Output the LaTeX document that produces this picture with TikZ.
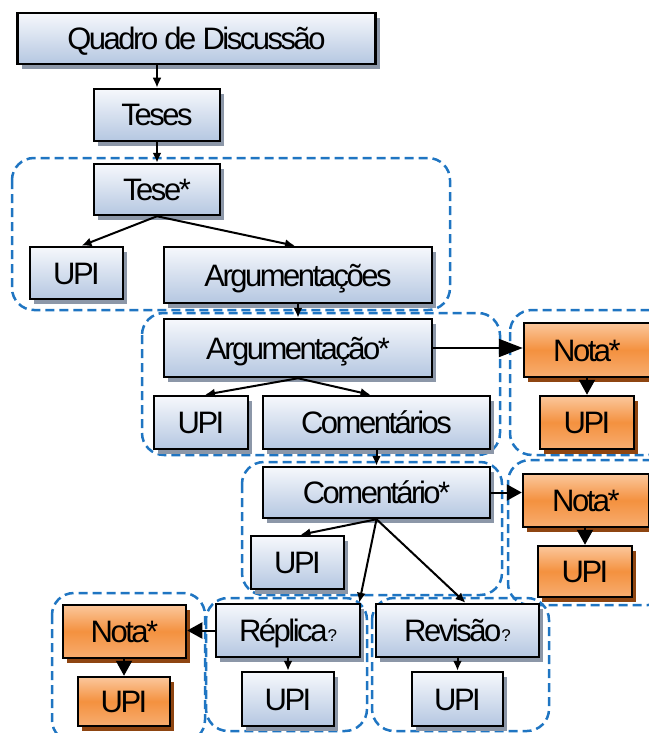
\documentclass[tikz,border=0pt]{standalone}
\usepackage{fontspec}
\setmainfont[LetterSpace=-8]{Liberation Sans}
\usetikzlibrary{arrows.meta,shadows}
\definecolor{boxtop}{HTML}{F6F8FC}
\definecolor{boxbot}{HTML}{B5C7E1}
\definecolor{bshadow}{HTML}{8C97A8}
\definecolor{otop}{HTML}{FBC79C}
\definecolor{omid}{HTML}{F4913F}
\definecolor{obot}{HTML}{F7AD70}
\definecolor{oshadow}{HTML}{8E4511}
\definecolor{dashblue}{HTML}{1F75C2}
\begin{document}
\begin{tikzpicture}[x=1pt,y=-1pt,
  box/.style={draw=black, line width=2.5pt, rectangle, inner sep=0pt,
    font=\fontsize{31}{36}\selectfont, text height=22pt, text depth=0pt,
    top color=boxtop, bottom color=boxbot,
    drop shadow={shadow xshift=4pt, shadow yshift=-5pt, fill=bshadow, opacity=1}},
  obox/.style={box, top color=otop, bottom color=obot, middle color=omid,
    drop shadow={shadow xshift=4pt, shadow yshift=-5pt, fill=oshadow, opacity=1}},
  sz/.style 2 args={minimum width=#1pt, minimum height=#2pt},
  grp/.style={draw=dashblue, line width=2.5pt, dash pattern=on 9pt off 5pt, rounded corners=22pt},
  arr/.style={-{Latex[length=10pt,width=9pt]}, line width=2pt},
  midarr/.style={-{Triangle[length=15pt,width=16pt]}, line width=2pt},
  bigarr/.style={-{Triangle[length=24pt,width=18pt]}, line width=2pt}
]
\useasboundingbox (0,0) rectangle (648,733);
% groups
\draw[grp] (12,158) rectangle (450,310);
\draw[grp] (142,313) rectangle (500,455);
\draw[grp] (510,310) rectangle (670,455);
\draw[grp] (242,462) rectangle (502,595);
\draw[grp] (508,460) rectangle (670,605);
\draw[grp] (52,593) rectangle (205,742);
\draw[grp] (206,598) rectangle (367,731);
\draw[grp] (372,598) rectangle (549,731);
% nodes
\node[box, sz={358}{51}] (q) at (196.5,38.5) {Quadro de Discussão};
\node[box, sz={126}{52}] (teses) at (157,115) {Teses};
\node[box, sz={126}{51}] (tese) at (157,189.5) {Tese*};
\node[box, sz={93}{52}] (upi1) at (76.5,273) {UPI};
\node[box, sz={268}{56}] (args) at (298,275) {Argumentações};
\node[box, sz={268}{58}] (arg) at (298,348) {Argumentação*};
\node[box, sz={94}{53}] (upi2) at (201,422.5) {UPI};
\node[box, sz={227}{53}] (coms) at (376.5,422.5) {Comentários};
\node[obox, sz={126}{54}] (nota1) at (587,350) {Nota*};
\node[obox, sz={94}{53}] (upin1) at (587,422.5) {UPI};
\node[box, sz={227}{51}] (com) at (376.5,492.5) {Comentário*};
\node[box, sz={93}{53}] (upi3) at (297.5,562.5) {UPI};
\node[obox, sz={126}{53}] (nota2) at (586,500.5) {Nota*};
\node[obox, sz={94}{51}] (upin2) at (585,571.5) {UPI};
\node[obox, sz={123}{53}] (nota3) at (124.5,631.5) {Nota*};
\node[obox, sz={92}{49}] (upin3) at (124,701.5) {UPI};
\node[box, sz={144}{53}] (rep) at (288,630.5) {Réplica{\fontsize{17}{20}\selectfont ?}};
\node[box, sz={92}{54}] (upir) at (288,699) {UPI};
\node[box, sz={163}{53}] (rev) at (457.5,630.5) {Revisão{\fontsize{17}{20}\selectfont ?}};
\node[box, sz={91}{54}] (upiv) at (457.5,699) {UPI};
% connectors
\draw[arr] (teses.north |- q.south) -- (teses.north);
\draw[arr] (teses.south) -- (tese.north);
\draw[arr] (tese.south) -- ([xshift=5pt]upi1.north);
\draw[arr] (tese.south) -- ([xshift=-3pt]args.north);
\draw[arr] (args.south) -- (arg.north);
\draw[arr] (arg.south) -- ([xshift=4pt]upi2.north);
\draw[arr] (arg.south) -- ([xshift=-6pt]coms.north);
\draw[bigarr] (arg.east) -- (nota1.west |- arg.east);
\draw[midarr] (upin1.north |- nota1.south) -- (upin1.north);
\draw[arr] (com.north |- coms.south) -- (com.north);
\draw[midarr] (com.east) -- (nota2.west |- com.east);
\draw[midarr] (upin2.north |- nota2.south) -- (upin2.north);
\draw[arr] (com.south) -- ([xshift=3pt]upi3.north);
\draw[arr] (com.south) -- ([xshift=-2pt]rep.north east);
\draw[arr] (com.south) -- ([xshift=8pt]rev.north);
\draw[midarr] (rep.west) -- (nota3.east |- rep.west);
\draw[midarr] (upin3.north |- nota3.south) -- (upin3.north);
\draw[arr] (rep.south) -- (upir.north);
\draw[arr] (rev.south) -- (upiv.north);
\end{tikzpicture}
\end{document}
